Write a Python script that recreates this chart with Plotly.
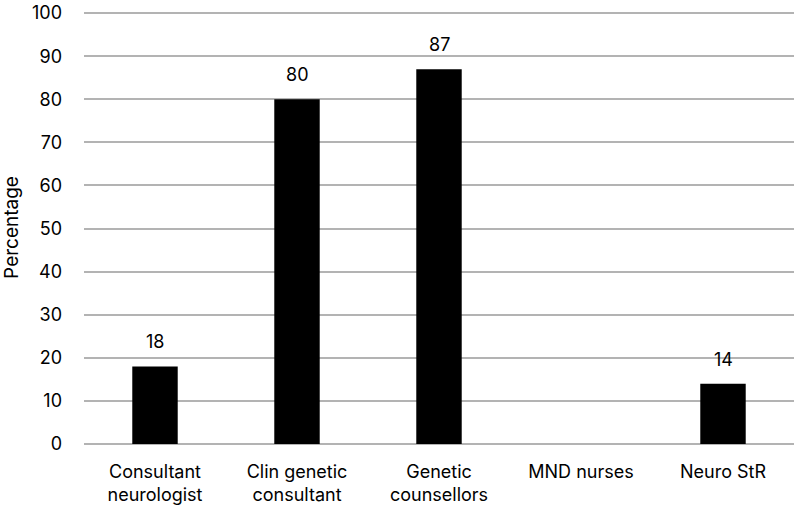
import plotly.graph_objects as go

categories = ["Consultant<br>neurologist", "Clin genetic<br>consultant", "Genetic<br>counsellors", "MND nurses", "Neuro StR"]
values = [18, 80, 87, 0, 14]
y_ticks = [0, 10, 20, 30, 40, 50, 60, 70, 80, 90, 100]

fig = go.Figure(go.Bar(
    x=categories, y=values,
    marker=dict(color="black", line=dict(width=0)),
))
for c, v in zip(categories, values):
    if v > 0:
        fig.add_annotation(x=c, y=v, text=str(v), showarrow=False, yanchor="bottom",
                           yshift=12, font=dict(size=18, color="black"))
fig.update_layout(
    width=800, height=515,
    margin=dict(l=84, r=6, t=11, b=71),
    paper_bgcolor="white", plot_bgcolor="white",
    font=dict(family="Inter, Noto Sans, sans-serif", size=18, color="black"),
    bargap=0.68, showlegend=False,
)
fig.update_xaxes(showline=False, ticks="", tickfont=dict(size=18), showgrid=False,
                 automargin=False, ticklabelstandoff=15)
fig.update_yaxes(range=[0, 100.5], tickvals=y_ticks, showgrid=True, gridcolor="#b3b3b3",
                 gridwidth=1.5, zeroline=True, zerolinecolor="#b3b3b3", zerolinewidth=1.5,
                 title=dict(text="Percentage", font=dict(size=19), standoff=18),
                 tickfont=dict(size=18), ticklabelstandoff=21, automargin=False)
fig.write_html("out.html", config={"displayModeBar": False},
               post_script="document.body.style.margin='0';")
